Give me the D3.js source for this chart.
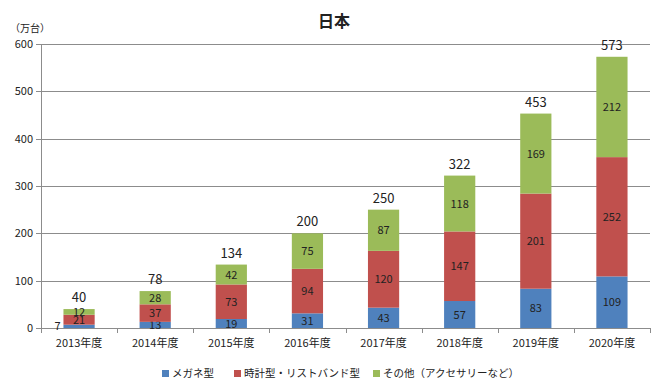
<!DOCTYPE html>
<html>
<head>
<meta charset="utf-8">
<script src="https://cdn.jsdelivr.net/npm/d3@7"></script>
<style>
body { margin: 0; background: #fff; }
text { font-family: "Noto Sans CJK JP", "Noto Sans", sans-serif; fill: #222; }
</style>
</head>
<body>
<div id="chart"></div>
<script>
var width = 665,
  height = 390,
  plotLeft = 41,
  plotRight = 650,
  plotTop = 44,
  plotBottom = 328;

var years = ["2013年度", "2014年度", "2015年度", "2016年度", "2017年度", "2018年度", "2019年度", "2020年度"];
var glasses = [7, 13, 19, 31, 43, 57, 83, 109];
var watch = [21, 37, 73, 94, 120, 147, 201, 252];
var others = [12, 28, 42, 75, 87, 118, 169, 212];
var totals = [40, 78, 134, 200, 250, 322, 453, 573];
var seriesNames = ["メガネ型", "時計型・リストバンド型", "その他（アクセサリーなど）"];
var colors = ["#4f81bd", "#c0504d", "#9bbb59"];
var yTicks = [0, 100, 200, 300, 400, 500, 600];

var rows = years.map(function (y, i) {
  return { year: y, g: glasses[i], w: watch[i], o: others[i], total: totals[i] };
});

var stack = d3.stack().keys(["g", "w", "o"])(rows);

var x = d3.scaleBand()
  .domain(years)
  .range([plotLeft, plotRight])
  .paddingInner(0.59)
  .paddingOuter(0.295);

var y = d3.scaleLinear()
  .domain([0, 600])
  .range([plotBottom, plotTop]);

var svg = d3.select("#chart").append("svg")
  .attr("width", width)
  .attr("height", height);

// gridlines
svg.append("g")
  .selectAll("line")
  .data(yTicks)
  .enter().append("line")
  .attr("x1", plotLeft - 5)
  .attr("x2", plotRight)
  .attr("y1", function (d) { return Math.round(y(d)) + 0.5; })
  .attr("y2", function (d) { return Math.round(y(d)) + 0.5; })
  .attr("stroke", "#8c8c8c")
  .attr("stroke-width", 1);

// y labels
svg.append("g")
  .selectAll("text")
  .data(yTicks)
  .enter().append("text")
  .attr("x", plotLeft - 8)
  .attr("y", function (d) { return y(d) + 4; })
  .attr("text-anchor", "end")
  .attr("font-size", 11)
  .text(function (d) { return d; });

// axis lines
svg.append("line")
  .attr("x1", plotLeft + 0.5).attr("x2", plotLeft + 0.5)
  .attr("y1", plotTop).attr("y2", plotBottom)
  .attr("stroke", "#8c8c8c");

var catW = (plotRight - plotLeft) / years.length;
svg.append("g")
  .selectAll("line")
  .data(d3.range(years.length + 1))
  .enter().append("line")
  .attr("x1", function (i) { return Math.round(plotLeft + i * catW) + 0.5; })
  .attr("x2", function (i) { return Math.round(plotLeft + i * catW) + 0.5; })
  .attr("y1", plotBottom)
  .attr("y2", plotBottom + 5)
  .attr("stroke", "#8c8c8c");

// bars
var layer = svg.append("g")
  .selectAll("g")
  .data(stack)
  .enter().append("g")
  .attr("fill", function (d, i) { return colors[i]; });

layer.selectAll("rect")
  .data(function (d) { return d; })
  .enter().append("rect")
  .attr("x", function (d) { return x(d.data.year); })
  .attr("width", x.bandwidth())
  .attr("y", function (d) { return y(d[1]); })
  .attr("height", function (d) { return y(d[0]) - y(d[1]); });

// segment labels
layer.selectAll("text")
  .data(function (d) { return d; })
  .enter().append("text")
  .attr("x", function (d) {
    var cx = x(d.data.year) + x.bandwidth() / 2;
    return (d[1] - d[0] < 10) ? x(d.data.year) - 6 : cx;
  })
  .attr("y", function (d) { return (y(d[0]) + y(d[1])) / 2 + 4; })
  .attr("text-anchor", "middle")
  .attr("font-size", 11)
  .text(function (d) { return d[1] - d[0]; });

// totals
svg.append("g")
  .selectAll("text")
  .data(rows)
  .enter().append("text")
  .attr("x", function (d) { return x(d.year) + x.bandwidth() / 2; })
  .attr("y", function (d) { return y(d.total) - 7; })
  .attr("text-anchor", "middle")
  .attr("font-size", 13)
  .text(function (d) { return d.total; });

// x labels
svg.append("g")
  .selectAll("text")
  .data(years)
  .enter().append("text")
  .attr("x", function (d) { return x(d) + x.bandwidth() / 2; })
  .attr("y", plotBottom + 19)
  .attr("text-anchor", "middle")
  .attr("font-size", 11)
  .text(function (d) { return d; });

// title and unit
svg.append("text")
  .attr("x", 334)
  .attr("y", 27)
  .attr("text-anchor", "middle")
  .attr("font-size", 16)
  .attr("font-weight", "bold")
  .text("日本");

svg.append("text")
  .attr("x", 10)
  .attr("y", 32)
  .attr("font-size", 10)
  .text("（万台）");

// legend
var legendX = [162, 234, 373];
var legend = svg.append("g")
  .selectAll("g")
  .data(seriesNames)
  .enter().append("g")
  .attr("transform", function (d, i) { return "translate(" + legendX[i] + ",377)"; });

legend.append("rect")
  .attr("x", 0)
  .attr("y", -7)
  .attr("width", 7)
  .attr("height", 7)
  .attr("fill", function (d, i) { return colors[i]; });

legend.append("text")
  .attr("x", 10)
  .attr("y", 0)
  .attr("font-size", 10.5)
  .text(function (d) { return d; });
</script>
</body>
</html>
